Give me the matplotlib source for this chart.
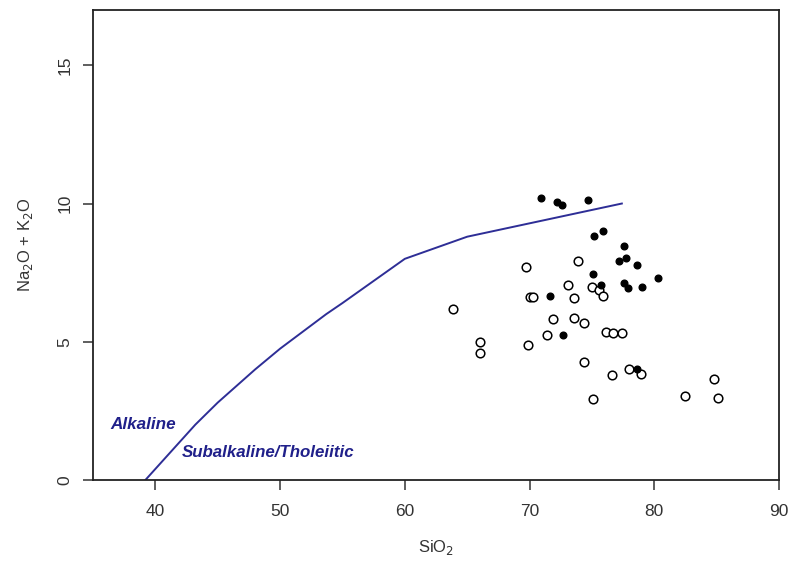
import matplotlib
matplotlib.use("Agg")
import matplotlib.pyplot as plt

plt.rcParams["font.family"] = ["Liberation Sans", "DejaVu Sans"]

# Irvine & Baragar (1971) alkaline / subalkaline dividing line
line_sio2 = [39.2, 40.0, 43.2, 45.0, 48.0, 50.0, 53.7, 55.0, 60.0, 65.0, 77.4]
line_alk = [0.0, 0.4, 2.0, 2.8, 4.0, 4.75, 6.0, 6.4, 8.0, 8.8, 10.0]

# Samples plotted with filled symbols
filled_sio2 = [70.9, 72.2, 72.6, 74.7, 75.2, 75.9, 77.6, 77.2, 77.7, 78.65,
               80.3, 75.1, 75.7, 77.6, 77.9, 79.0, 71.6, 72.7, 78.6]
filled_alk = [10.2, 10.07, 9.93, 10.12, 8.84, 8.99, 8.45, 7.93, 8.03, 7.77,
              7.32, 7.45, 7.05, 7.14, 6.94, 6.98, 6.65, 5.23, 4.03]

# Samples plotted with open symbols
open_sio2 = [63.9, 69.7, 73.9, 73.1, 75.0, 75.6, 75.9, 73.6, 70.0, 70.3,
             71.9, 73.6, 74.4, 71.4, 76.1, 76.7, 77.4, 66.0, 66.0, 69.9,
             74.35, 76.6, 77.96, 78.9, 75.1, 82.5, 84.8, 85.1]
open_alk = [6.18, 7.72, 7.91, 7.05, 6.98, 6.88, 6.65, 6.59, 6.62, 6.62,
            5.82, 5.85, 5.69, 5.24, 5.35, 5.33, 5.33, 4.98, 4.6, 4.87,
            4.28, 3.79, 4.03, 3.83, 2.93, 3.04, 3.65, 2.95]

x_ticks = [40, 50, 60, 70, 80, 90]
y_ticks = [0, 5, 10, 15]

line_color = "#2e2e96"
text_color = "#20208a"

fig = plt.figure(figsize=(7.88, 5.61), dpi=100)
ax = fig.add_axes([93 / 788, 81 / 561, 686 / 788, 470 / 561])

ax.plot(line_sio2, line_alk, color=line_color, lw=1.4, zorder=2)
ax.plot(open_sio2, open_alk, linestyle="none", marker="o", ms=6.2,
        mfc="white", mec="black", mew=1.1, zorder=3)
ax.plot(filled_sio2, filled_alk, linestyle="none", marker="o", ms=4.8,
        mfc="black", mec="black", zorder=4)

ax.text(36.4, 2.0, "Alkaline", color=text_color, fontsize=12.3,
        fontweight="bold", fontstyle="italic", va="center", ha="left")
ax.text(42.1, 0.98, "Subalkaline/Tholeiitic", color=text_color, fontsize=12.2,
        fontweight="bold", fontstyle="italic", va="center", ha="left")

ax.set_xlim(35, 90)
ax.set_ylim(0, 17)
ax.set_xticks(x_ticks)
ax.set_yticks(y_ticks)
ax.tick_params(direction="out", length=7, width=1.1, colors="#333333",
               labelsize=12.5, pad=10)
ax.tick_params(axis="y", pad=8)
for lab in ax.get_yticklabels():
    lab.set_rotation(90)
    lab.set_va("center")

for sp in ax.spines.values():
    sp.set_linewidth(1.3)
    sp.set_color("#222222")

ax.set_xlabel("SiO$_2$", fontsize=12, color="#333333", labelpad=14)
ax.set_ylabel("Na$_2$O + K$_2$O", fontsize=12, color="#333333", labelpad=16)

fig.savefig("out.png", dpi=100)
